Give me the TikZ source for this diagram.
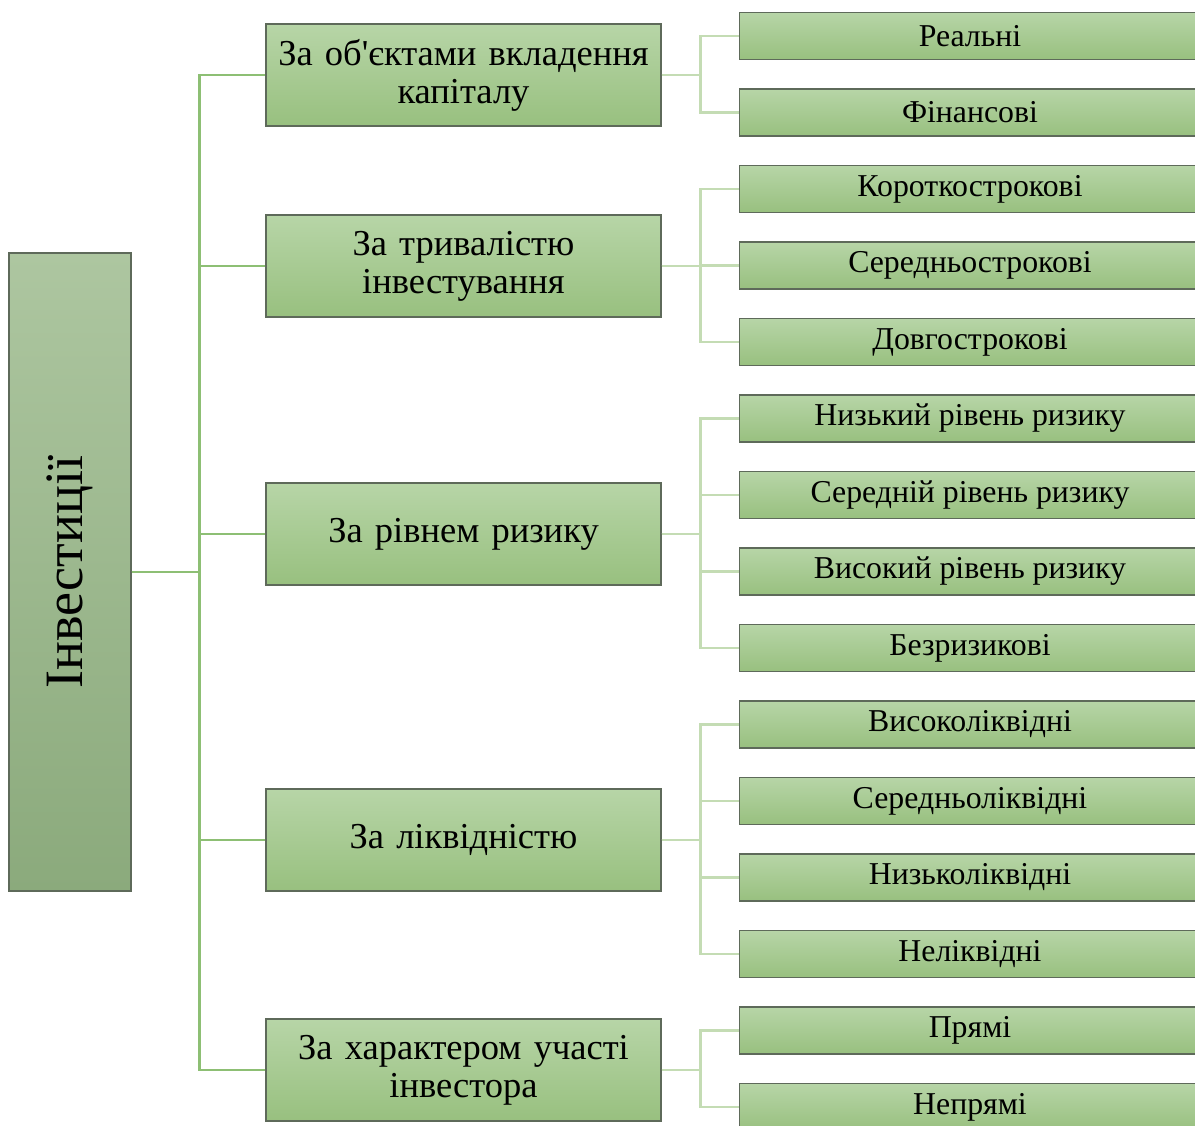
\documentclass[tikz,border=0pt]{standalone}
\usepackage{fontspec}
\setmainfont{Liberation Serif}
\usetikzlibrary{positioning}

\definecolor{rootTop}{HTML}{ADC6A0}
\definecolor{rootBot}{HTML}{8BAA7C}
\definecolor{boxTop}{HTML}{B7D5A7}
\definecolor{boxBot}{HTML}{98C07F}
\definecolor{edge}{HTML}{5E6A5A}
\definecolor{trunk}{HTML}{8DBF74}
\definecolor{twig}{HTML}{C4DCB4}

\begin{document}
\begin{tikzpicture}
 [
  x=1pt, y=-1pt,
  root/.style   = {draw=edge, line width=1.4pt, top color=rootTop, bottom color=rootBot,
                   minimum width=122pt, minimum height=638pt, inner sep=0pt,
                   font=\fontsize{54}{60}\selectfont},
  kind/.style   = {draw=edge, line width=1.4pt, top color=boxTop, bottom color=boxBot,
                   minimum width=395pt, minimum height=102pt, inner sep=2pt,
                   text width=390pt, align=center,
                   font=\fontsize{36.5}{38}\selectfont},
  leaf/.style   = {draw=edge, line width=1.4pt, top color=boxTop, bottom color=boxBot,
                   minimum width=466pt, minimum height=47pt, inner sep=0pt, anchor=west},
  leaftext/.style = {font=\fontsize{31.8}{34}\selectfont},
  bough/.style  = {draw=trunk, line width=2.6pt},
  twigline/.style = {draw=twig, line width=2.6pt},
 ]
 \useasboundingbox (0,0) rectangle (1195,1126);

 % the root
 \node (inv) at (70,572) [root] {\rotatebox{90}{Інвестиції}};

 % classification boxes
 \node (obj)  at (463.5,75)   [kind] {За об\textquotesingle єктами вкладення\\капіталу};
 \node (term) at (463.5,266)  [kind] {За тривалістю\\інвестування};
 \node (risk) at (463.5,534)  [kind] {За рівнем ризику};
 \node (liq)  at (463.5,840)  [kind] {За ліквідністю};
 \node (part) at (463.5,1070) [kind] {За характером участі\\інвестора};

 % kinds
 \node (real)  at (739,36)     [leaf] {};
 \node (fin)   at (739,112.5)  [leaf] {};
 \node (short) at (739,189)    [leaf] {};
 \node (mid)   at (739,265.5)  [leaf] {};
 \node (long)  at (739,342)    [leaf] {};
 \node (rlow)  at (739,418.5)  [leaf] {};
 \node (rmid)  at (739,495)    [leaf] {};
 \node (rhigh) at (739,571.5)  [leaf] {};
 \node (rnone) at (739,648)    [leaf] {};
 \node (lhigh) at (739,724.5)  [leaf] {};
 \node (lmid)  at (739,801)    [leaf] {};
 \node (llow)  at (739,877.5)  [leaf] {};
 \node (lnone) at (739,954)    [leaf] {};
 \node (dir)   at (739,1030.5) [leaf] {};
 \node (indir) at (739,1107)   [leaf] {};

 \node at (970,36)     [leaftext] {Реальні};
 \node at (970,112.5)  [leaftext] {Фінансові};
 \node at (970,189)    [leaftext] {Короткострокові};
 \node at (970,265.5)  [leaftext] {Середньострокові};
 \node at (970,342)    [leaftext] {Довгострокові};
 \node at (970,418.5)  [leaftext] {Низький рівень ризику};
 \node at (970,495)    [leaftext] {Середній рівень ризику};
 \node at (970,571.5)  [leaftext] {Високий рівень ризику};
 \node at (970,648)    [leaftext] {Безризикові};
 \node at (970,724.5)  [leaftext] {Високоліквідні};
 \node at (970,801)    [leaftext] {Середньоліквідні};
 \node at (970,877.5)  [leaftext] {Низьколіквідні};
 \node at (970,954)    [leaftext] {Неліквідні};
 \node at (970,1030.5) [leaftext] {Прямі};
 \node at (970,1107)   [leaftext] {Непрямі};

 % root to the classifications
 \draw[bough] (inv.east) -- ++(68,0) |- (obj.west);
 \draw[bough] (inv.east) -- ++(68,0) |- (term.west);
 \draw[bough] (inv.east) -- ++(68,0) |- (risk.west);
 \draw[bough] (inv.east) -- ++(68,0) |- (liq.west);
 \draw[bough] (inv.east) -- ++(68,0) |- (part.west);

 % classifications to kinds
 \draw[twigline] (obj.east) -- ++(39,0) |- (real.west);
 \draw[twigline] (obj.east) -- ++(39,0) |- (fin.west);
 \draw[twigline] (term.east) -- ++(39,0) |- (short.west);
 \draw[twigline] (term.east) -- ++(39,0) |- (mid.west);
 \draw[twigline] (term.east) -- ++(39,0) |- (long.west);
 \draw[twigline] (risk.east) -- ++(39,0) |- (rlow.west);
 \draw[twigline] (risk.east) -- ++(39,0) |- (rmid.west);
 \draw[twigline] (risk.east) -- ++(39,0) |- (rhigh.west);
 \draw[twigline] (risk.east) -- ++(39,0) |- (rnone.west);
 \draw[twigline] (liq.east) -- ++(39,0) |- (lhigh.west);
 \draw[twigline] (liq.east) -- ++(39,0) |- (lmid.west);
 \draw[twigline] (liq.east) -- ++(39,0) |- (llow.west);
 \draw[twigline] (liq.east) -- ++(39,0) |- (lnone.west);
 \draw[twigline] (part.east) -- ++(39,0) |- (dir.west);
 \draw[twigline] (part.east) -- ++(39,0) |- (indir.west);
\end{tikzpicture}
\end{document}
